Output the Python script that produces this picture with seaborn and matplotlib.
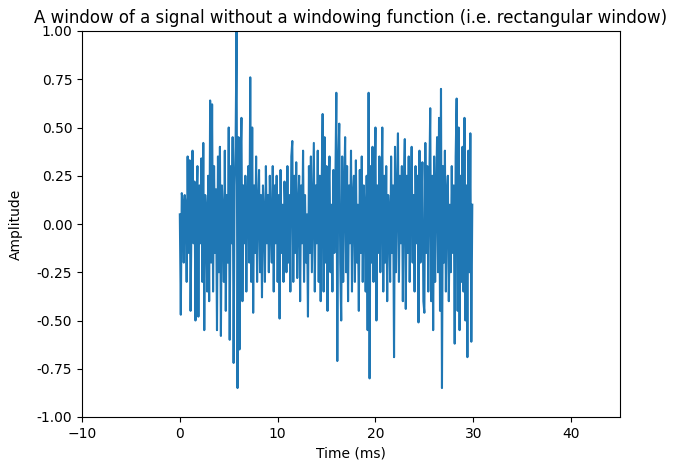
import numpy as np
import pandas as pd
import matplotlib
matplotlib.use("Agg")
import matplotlib.pyplot as plt
import seaborn as sns

sample_period_ms = 0.1
amplitude = [
    0.05, -0.47, 0.16, 0.12, -0.20, 0.15, 0.10, -0.30, 0.35, -0.15,
    0.33, -0.45, 0.05, 0.38, -0.10, 0.22, -0.50, 0.10, 0.30, -0.48,
    0.20, -0.10, 0.34, -0.30, 0.42, -0.55, 0.15, 0.05, -0.35, 0.25,
    -0.40, 0.64, -0.20, 0.62, -0.35, 0.30, -0.15, 0.18, -0.55, 0.35,
    -0.25, 0.40, -0.58, 0.20, 0.05, -0.30, 0.38, -0.45, 0.15, -0.20,
    0.50, -0.60, 0.30, -0.10, 0.45, -0.72, 0.20, 0.40, 1.00, -0.85,
    0.45, -0.65, 0.30, 0.55, -0.40, 0.20, -0.10, 0.25, -0.35, 0.10,
    0.30, -0.20, 0.76, -0.30, 0.50, -0.46, 0.20, -0.15, 0.35, -0.30,
    0.10, 0.28, -0.25, 0.15, -0.38, 0.20, 0.05, -0.30, 0.30, -0.10,
    0.15, -0.25, 0.25, 0.00, -0.20, 0.30, -0.35, 0.20, -0.10, 0.25,
    -0.30, 0.15, -0.49, 0.28, -0.15, 0.10, -0.30, 0.22, 0.05, -0.25,
    0.30, -0.20, 0.15, -0.35, 0.35, 0.43, -0.30, 0.25, -0.15, 0.32,
    -0.28, 0.10, 0.25, -0.40, 0.20, -0.10, 0.38, -0.30, 0.15, -0.20,
    0.05, -0.48, 0.30, -0.15, 0.35, -0.25, 0.10, 0.42, -0.35, 0.20,
    -0.10, 0.38, -0.30, 0.25, -0.40, 0.20, 0.57, -0.35, 0.45, -0.20,
    0.30, -0.45, 0.15, 0.35, -0.25, 0.10, -0.35, 0.28, -0.15, 0.20,
    0.68, -0.71, 0.30, 0.52, -0.20, -0.50, 0.35, -0.30, 0.15, 0.45,
    -0.25, 0.30, -0.40, 0.20, -0.10, 0.38, -0.35, 0.15, 0.25, -0.30,
    0.33, -0.20, 0.10, -0.45, 0.28, -0.15, 0.35, -0.30, 0.20, 0.05,
    -0.35, 0.25, -0.55, 0.68, -0.80, 0.30, -0.20, 0.40, -0.30, 0.15,
    0.50, -0.50, 0.20, -0.15, 0.35, -0.25, 0.10, 0.50, -0.35, 0.25,
    -0.20, 0.30, -0.40, 0.15, 0.05, -0.30, 0.35, -0.15, 0.20, -0.69,
    0.40, -0.25, 0.15, 0.47, -0.30, 0.25, -0.10, 0.30, -0.40, 0.20,
    0.44, -0.44, 0.25, -0.15, 0.35, -0.30, 0.10, 0.40, -0.20, 0.15,
    -0.35, 0.30, -0.10, 0.25, -0.51, 0.38, -0.20, 0.10, 0.32, -0.40,
    -0.46, 0.42, -0.15, 0.30, -0.35, 0.20, 0.60, -0.40, 0.25, -0.55,
    0.35, -0.30, 0.15, 0.45, -0.25, 0.55, -0.45, 0.70, -0.85, 0.30,
    -0.20, 0.38, -0.35, 0.15, 0.25, -0.40, 0.10, -0.25, 0.30, -0.15,
    0.20, -0.62, 0.35, 0.65, -0.45, 0.50, -0.55, 0.25, -0.30, 0.40,
    -0.35, 0.55, -0.50, 0.20, -0.69, 0.38, -0.25, 0.47, -0.61, 0.10,
]
time_ms = np.arange(len(amplitude)) * sample_period_ms

df = pd.DataFrame({"Time (ms)": time_ms, "Amplitude": amplitude})

fig = plt.figure(figsize=(6.78, 4.70), dpi=100)
ax = fig.add_axes([82 / 678, 1 - 417 / 470, (620 - 82) / 678, (417 - 31) / 470])
sns.lineplot(data=df, x="Time (ms)", y="Amplitude", ax=ax, color="#1f77b4",
             linewidth=1.5, sort=False, estimator=None)
ax.set_xlim(-10, 45)
ax.set_ylim(-1, 1)
ax.set_xticks([-10, 0, 10, 20, 30, 40])
ax.set_yticks(np.linspace(-1, 1, 9))
ax.yaxis.set_major_formatter(matplotlib.ticker.FormatStrFormatter("%.2f"))
ax.set_title("A window of a signal without a windowing function (i.e. rectangular window)")
ax.set_xlabel("Time (ms)")
ax.set_ylabel("Amplitude", labelpad=10)
fig.savefig("out.png", dpi=100)
